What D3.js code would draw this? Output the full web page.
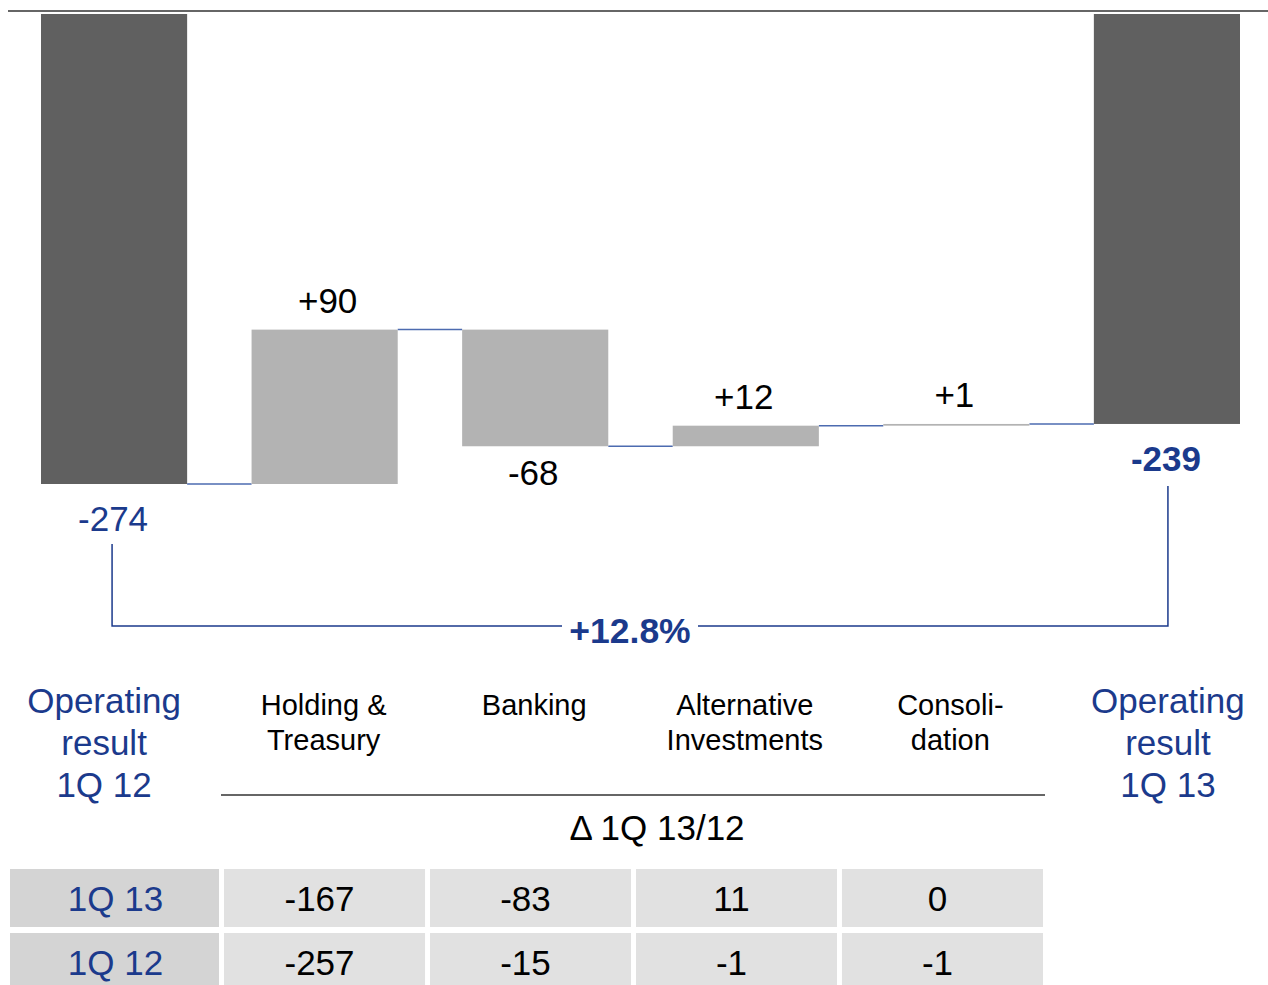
<!DOCTYPE html>
<html>
<head>
<meta charset="utf-8">
<script src="https://cdn.jsdelivr.net/npm/d3@7"></script>
<style>
  body { margin: 0; background: #fff; }
  text { font-family: "Liberation Sans", Arial, sans-serif; }
</style>
</head>
<body>
<div id="waterfall"></div>
<script>
// chart values
const categories = ["Operating result 1Q 12", "Holding & Treasury", "Banking", "Alternative Investments", "Consolidation", "Operating result 1Q 13"];
const categoryLines = [
  ["Operating", "result", "1Q 12"],
  ["Holding &", "Treasury"],
  ["Banking"],
  ["Alternative", "Investments"],
  ["Consoli-", "dation"],
  ["Operating", "result", "1Q 13"]
];
const startValue = -274;
const deltas = [90, -68, 12, 1];
const endValue = -239;
const changeLabel = "+12.8%";
const deltaTitle = "Δ 1Q 13/12";

const tableRows = ["1Q 13", "1Q 12"];
const values1Q13 = [-167, -83, 11, 0];
const values1Q12 = [-257, -15, -1, -1];

const width = 1268;
const height = 985;
const blue = "#1b3a8c";
const connectorBlue = "#4d6bb0";

let svg, xScale, yScale;

function init() {
  // build the waterfall rows from the arrays above
  const bars = [];
  let running = startValue;
  bars.push({ cat: categories[0], from: 0, to: startValue, kind: "total", label: String(startValue) });
  deltas.forEach((d, i) => {
    const prev = running;
    running = running + d;
    bars.push({ cat: categories[i + 1], from: prev, to: running, kind: "delta", delta: d, label: (d > 0 ? "+" : "") + d });
  });
  bars.push({ cat: categories[5], from: 0, to: endValue, kind: "total", label: String(endValue) });

  xScale = d3.scaleBand()
    .domain(categories)
    .range([41, 1240])
    .paddingInner(0.306)
    .paddingOuter(0);

  yScale = d3.scaleLinear()
    .domain([0, startValue])
    .range([14, 484]);

  svg = d3.select("#waterfall")
    .append("svg")
    .attr("width", width)
    .attr("height", height);

  // top rule
  svg.append("line")
    .attr("x1", 8).attr("x2", width)
    .attr("y1", 11).attr("y2", 11)
    .attr("stroke", "#333").attr("stroke-width", 1.5);

  // connectors between bars
  const connectors = bars.slice(0, -1).map((b, i) => ({
    x1: xScale(b.cat) + xScale.bandwidth(),
    x2: xScale(bars[i + 1].cat),
    y: yScale(b.to)
  }));
  svg.selectAll(".connector")
    .data(connectors)
    .join("line")
    .attr("class", "connector")
    .attr("x1", d => d.x1).attr("x2", d => d.x2)
    .attr("y1", d => d.y).attr("y2", d => d.y)
    .attr("stroke", connectorBlue)
    .attr("stroke-width", 1.5);

  svg.selectAll(".bar")
    .data(bars)
    .join("rect")
    .attr("class", "bar")
    .attr("x", d => xScale(d.cat))
    .attr("width", xScale.bandwidth())
    .attr("y", d => Math.min(yScale(d.from), yScale(d.to)))
    .attr("height", d => Math.max(1.5, Math.abs(yScale(d.from) - yScale(d.to))))
    .attr("fill", d => d.kind === "total" ? "#606060" : "#b3b3b3");

  // value labels
  svg.selectAll(".value")
    .data(bars)
    .join("text")
    .attr("class", "value")
    .attr("x", (d, i) => xScale(d.cat) + xScale.bandwidth() / 2 + (i === 1 ? 3 : (d.kind === "total" ? -1 : -2)))
    .attr("y", d => {
      if (d.kind === "total") return yScale(d.to) + 47;
      if (d.delta > 0) return Math.min(yScale(d.from), yScale(d.to)) - 17;
      return Math.max(yScale(d.from), yScale(d.to)) + 39;
    })
    .attr("text-anchor", "middle")
    .attr("font-size", 35)
    .attr("font-weight", (d, i) => i === bars.length - 1 ? "bold" : "normal")
    .attr("fill", d => d.kind === "total" ? blue : "#000")
    .text(d => d.label);

  // bracket with percent change
  const xa = xScale(categories[0]) + xScale.bandwidth() / 2 - 2;
  const xb = xScale(categories[5]) + xScale.bandwidth() / 2 + 1;
  const yBr = 626;
  const xMid = 630;
  const gap = 68;
  svg.append("path")
    .attr("d", `M${xa},${yScale(startValue) + 60}V${yBr}H${xMid - gap}`)
    .attr("fill", "none").attr("stroke", blue).attr("stroke-width", 1.5);
  svg.append("path")
    .attr("d", `M${xMid + gap},${yBr}H${xb}V${yScale(endValue) + 62}`)
    .attr("fill", "none").attr("stroke", blue).attr("stroke-width", 1.5);
  svg.append("text")
    .attr("x", xMid).attr("y", yBr + 17)
    .attr("text-anchor", "middle")
    .attr("font-size", 35.5).attr("font-weight", "bold")
    .attr("fill", blue)
    .text(changeLabel);

  // category labels
  const catGroups = svg.selectAll(".cat")
    .data(categories)
    .join("g")
    .attr("class", "cat")
    .attr("transform", (d, i) => {
      const shift = i === 0 ? -10 : (i === 4 ? -6 : (i === 5 ? 1 : -1));
      return `translate(${xScale(d) + xScale.bandwidth() / 2 + shift},0)`;
    });
  catGroups.selectAll("text")
    .data((d, i) => categoryLines[i].map((t, j) => ({ t, j, total: i === 0 || i === 5 })))
    .join("text")
    .attr("x", 0)
    .attr("y", d => d.total ? 713 + d.j * 42 : 715 + d.j * 35)
    .attr("text-anchor", "middle")
    .attr("font-size", d => d.total ? 35 : 29)
    .attr("fill", d => d.total ? blue : "#000")
    .text(d => d.t);

  svg.append("line")
    .attr("x1", 221).attr("x2", 1045)
    .attr("y1", 795).attr("y2", 795)
    .attr("stroke", "#333").attr("stroke-width", 1.5);

  svg.append("text")
    .attr("x", 657).attr("y", 840)
    .attr("text-anchor", "middle")
    .attr("font-size", 35)
    .attr("fill", "#000")
    .text(deltaTitle);

  // table: a header column and four value columns
  const colScale = d3.scaleBand()
    .domain(d3.range(4))
    .range([224, 1043])
    .paddingInner(0.024);
  const headX0 = 10;
  const headX1 = colScale(0) - 5;
  const rowScale = d3.scaleBand()
    .domain(tableRows)
    .range([869, 991])
    .paddingInner(0.094);

  const tableValues = [values1Q13, values1Q12];
  const cells = [];
  tableRows.forEach((r, ri) => {
    cells.push({ row: r, x: headX0, w: headX1 - headX0, text: r, head: true });
    tableValues[ri].forEach((v, ci) => cells.push({ row: r, x: colScale(ci), w: colScale.bandwidth(), text: String(v), head: false }));
  });

  svg.selectAll(".cell")
    .data(cells)
    .join("rect")
    .attr("class", "cell")
    .attr("x", d => d.x)
    .attr("y", d => rowScale(d.row))
    .attr("width", d => d.w)
    .attr("height", rowScale.bandwidth())
    .attr("fill", d => d.head ? "#d4d4d4" : "#e1e1e1");

  svg.selectAll(".cellText")
    .data(cells)
    .join("text")
    .attr("class", "cellText")
    .attr("x", d => d.x + d.w / 2 + (d.head ? 1 : -5))
    .attr("y", d => rowScale(d.row) + rowScale.bandwidth() / 2 + 13)
    .attr("text-anchor", "middle")
    .attr("font-size", 35)
    .attr("fill", d => d.head ? blue : "#000")
    .text(d => d.text);
}

init();
</script>
</body>
</html>
